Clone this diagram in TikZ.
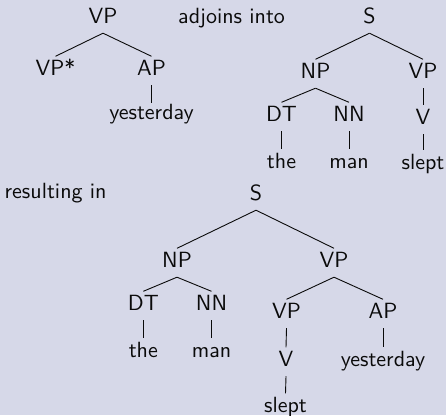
\documentclass[tikz,border=0pt]{standalone}
\usepackage{graphicx}
\definecolor{pagebg}{RGB}{214,216,232}
\definecolor{ink}{RGB}{10,10,10}
% labels use the 10pt design of Latin Modern Sans, enlarged
\newcommand{\lbltext}[1]{\scalebox{2.2}{\fontsize{10}{12}\selectfont\sffamily #1}}
\begin{document}
\begin{tikzpicture}[x=1pt,y=-1pt,
  tn/.style={inner sep=0pt, text height=18.5pt, text depth=10pt, anchor=base, text=ink},
  caption/.style={inner sep=0pt, anchor=base west, text=ink},
  edge/.style={draw=ink, line width=0.9pt}]
\fill[pagebg] (0,0) rectangle (446,415);
\useasboundingbox (0,0) rectangle (446,415);

% auxiliary tree
\node[tn] (vpA)     at (103,23)   {\lbltext{VP}};
\node[tn] (vpstarA) at (55.5,75)  {\lbltext{VP*}};
\node[tn] (apA)     at (151.5,75) {\lbltext{AP}};
\node[tn, text height=15.5pt] (yestA) at (151.5,119) {\lbltext{yesterday}};
\draw[edge] (vpA.south) -- (vpstarA.north);
\draw[edge] (vpA.south) -- (apA.north);
\draw[edge] (apA.south) -- (yestA.north);

\node[caption] (adjoin) at (178,23) {\lbltext{adjoins into}};

% initial tree
\node[tn] (sB)     at (369.5,23) {\lbltext{S}};
\node[tn] (npB)    at (315.5,78) {\lbltext{NP}};
\node[tn] (vpB)    at (423,78)   {\lbltext{VP}};
\node[tn] (dtB)    at (281.5,121){\lbltext{DT}};
\node[tn] (nnB)    at (349,121)  {\lbltext{NN}};
\node[tn] (vB)     at (423,124)  {\lbltext{V}};
\node[tn] (theB)   at (281.5,168){\lbltext{the}};
\node[tn] (manB)   at (349,168)  {\lbltext{man}};
\node[tn] (sleptB) at (423,169)  {\lbltext{slept}};
\draw[edge] (sB.south) -- (npB.north);
\draw[edge] (sB.south) -- (vpB.north);
\draw[edge] (npB.south) -- (dtB.north);
\draw[edge] (npB.south) -- (nnB.north);
\draw[edge] (vpB.south) -- (vB.north);
\draw[edge] (dtB.south) -- (theB.north);
\draw[edge] (nnB.south) -- (manB.north);
\draw[edge] (vB.south) -- (sleptB.north);

\node[caption] (result) at (4.5,198.5) {\lbltext{resulting in}};

% derived tree
\node[tn] (sC)     at (256,200)   {\lbltext{S}};
\node[tn] (npC)    at (177,267)   {\lbltext{NP}};
\node[tn] (vpC)    at (334,267)   {\lbltext{VP}};
\node[tn] (dtC)    at (143.3,310) {\lbltext{DT}};
\node[tn] (nnC)    at (211.5,310) {\lbltext{NN}};
\node[tn] (vpinC)  at (286.5,318) {\lbltext{VP}};
\node[tn] (apC)    at (383,318)   {\lbltext{AP}};
\node[tn] (theC)   at (143.3,357) {\lbltext{the}};
\node[tn] (manC)   at (211.5,357) {\lbltext{man}};
\node[tn] (vC)     at (286,366)   {\lbltext{V}};
\node[tn] (yestC)  at (383,366)   {\lbltext{yesterday}};
\node[tn] (sleptC) at (285.5,412) {\lbltext{slept}};
\draw[edge] (sC.south) -- (npC.north);
\draw[edge] (sC.south) -- (vpC.north);
\draw[edge] (npC.south) -- (dtC.north);
\draw[edge] (npC.south) -- (nnC.north);
\draw[edge] (vpC.south) -- (vpinC.north);
\draw[edge] (vpC.south) -- (apC.north);
\draw[edge] (dtC.south) -- (theC.north);
\draw[edge] (nnC.south) -- (manC.north);
\draw[edge] (vpinC.south) -- (vC.north);
\draw[edge] (apC.south) -- (yestC.north);
\draw[edge] (vC.south) -- (sleptC.north);
\end{tikzpicture}
\end{document}
